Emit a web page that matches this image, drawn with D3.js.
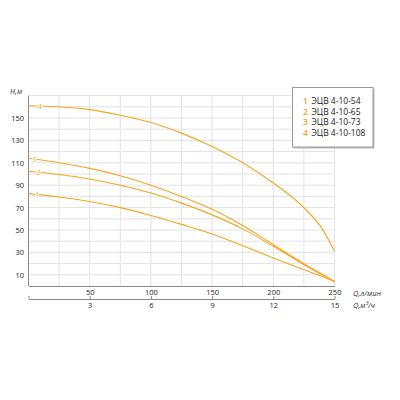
<!DOCTYPE html>
<html>
<head>
<meta charset="utf-8">
<script src="https://cdn.jsdelivr.net/npm/d3@7"></script>
<style>
  body { margin: 0; background: #fff; }
  text { font-family: "Open Sans", sans-serif; }
</style>
</head>
<body>
<div id="chart"></div>
<script>
// flow, l/min
const flow = [0, 25, 50, 75, 100, 125, 150, 175, 200, 225, 240, 250];
// head, m
const head1 = [82.5, 79.5, 75.5, 70, 63, 55, 46.5, 36, 25, 14.5, 8.5, 4];
const head2 = [102.5, 99.5, 95.5, 90, 83, 74, 63.5, 51, 35.5, 19, 10, 4];
const head3 = [114, 110, 105, 98.5, 90, 80, 68.5, 54, 37, 20, 10.5, 4];
const head4 = [161, 160, 157.5, 152.5, 146, 136.5, 124.5, 110, 92, 70, 51, 31];
const names = ["ЭЦВ 4-10-54", "ЭЦВ 4-10-65", "ЭЦВ 4-10-73", "ЭЦВ 4-10-108"];
const labelAt = [7, 8.3, 4.7, 9.4]; // flow where curve number sits
const flowTicks = [50, 100, 150, 200, 250];
const cubicTicks = [0, 3, 6, 9, 12, 15];
const headTicks = [10, 30, 50, 70, 90, 110, 130, 150];

const W = 400, H = 400;
const color = "#f5a623";

const svg = d3.select("#chart").append("svg")
  .attr("width", W).attr("height", H);

const x = d3.scaleLinear().domain([0, 250]).range([28.5, 334.5]);
const x2 = d3.scaleLinear().domain([0, 15]).range([28.5, 334.5]);
const y = d3.scaleLinear().domain([0, 170]).range([286, 95.6]);

// grid
svg.append("g").selectAll("line")
  .data(d3.range(10, 171, 10))
  .join("line")
  .attr("x1", x(0)).attr("x2", x(250))
  .attr("y1", d => y(d)).attr("y2", d => y(d))
  .attr("stroke", "#e2e2e2");
svg.append("g").selectAll("line")
  .data(d3.range(25, 251, 25))
  .join("line")
  .attr("x1", d => x(d)).attr("x2", d => x(d))
  .attr("y1", y(0)).attr("y2", y(170))
  .attr("stroke", "#e2e2e2");

// axes
const yAxis = svg.append("g")
  .attr("transform", `translate(${x(0)},0)`)
  .call(d3.axisLeft(y).tickValues(headTicks).tickSize(0).tickPadding(4.5));
const xAxis = svg.append("g")
  .attr("transform", `translate(0,${y(0)})`)
  .call(d3.axisBottom(x).tickValues(flowTicks).tickSize(0).tickPadding(4));
const x2Axis = svg.append("g")
  .attr("transform", "translate(0,299)")
  .call(d3.axisBottom(x2).tickValues(cubicTicks).tickSizeInner(-3).tickSizeOuter(0)
    .tickPadding(3.5).tickFormat(d => d === 0 ? "" : d));

[yAxis, xAxis, x2Axis].forEach(g => {
  g.select(".domain").attr("stroke", "#8a8a8a");
  g.selectAll(".tick line").attr("stroke", "#8a8a8a");
  g.selectAll("text").attr("font-size", 7.5).attr("fill", "#222")
    .style("font-family", "'Open Sans', sans-serif");
});
yAxis.select(".domain").attr("d", `M0,${y(0)}V${y(170)}`);

// axis titles
svg.append("text").attr("x", 10).attr("y", 94)
  .attr("font-size", 7.5).attr("font-style", "italic").attr("fill", "#333")
  .text("H,м");
svg.append("text").attr("x", 353).attr("y", 295.5)
  .attr("font-size", 7.5).attr("font-style", "italic").attr("fill", "#333")
  .text("Q,л/мин");
svg.append("text").attr("x", 353).attr("y", 307.5)
  .attr("font-size", 7.5).attr("font-style", "italic").attr("fill", "#333")
  .text("Q,м³/ч");

// curves
const series = [head1, head2, head3, head4];
const line = d3.line()
  .x((d, i) => x(flow[i]))
  .y(d => y(d))
  .curve(d3.curveMonotoneX);

svg.append("g").selectAll("path")
  .data(series)
  .join("path")
  .attr("d", line)
  .attr("fill", "none")
  .attr("stroke", color)
  .attr("stroke-width", 1.1);

// curve numbers
svg.append("g").selectAll("text")
  .data(series)
  .join("text")
  .attr("x", (d, i) => x(labelAt[i]))
  .attr("y", (d, i) => y(d3.interpolateNumber(d[0], d[1])(labelAt[i] / 25)))
  .attr("dy", "0.35em")
  .attr("text-anchor", "middle")
  .attr("font-size", 7.5)
  .attr("fill", color)
  .attr("stroke", "#fff").attr("stroke-width", 2)
  .attr("paint-order", "stroke")
  .text((d, i) => i + 1);

// legend
const lg = svg.append("g").attr("transform", "translate(292.5,87.5)");
lg.append("rect").attr("x", 1).attr("y", 1).attr("width", 81).attr("height", 60)
  .attr("fill", "#bbb");
lg.append("rect").attr("width", 80.5).attr("height", 59.5)
  .attr("fill", "#fff").attr("stroke", "#999");
const rows = lg.selectAll("g.row").data(names).join("g")
  .attr("transform", (d, i) => `translate(0,${13.5 + i * 10.6})`);
rows.append("text").attr("x", 10.5).attr("dy", "0.35em")
  .attr("font-size", 8.5).attr("font-weight", 600).attr("fill", color).text((d, i) => i + 1);
rows.append("text").attr("x", 19).attr("dy", "0.35em")
  .attr("font-size", 8.5).attr("fill", "#222").text(d => d);
</script>
</body>
</html>
